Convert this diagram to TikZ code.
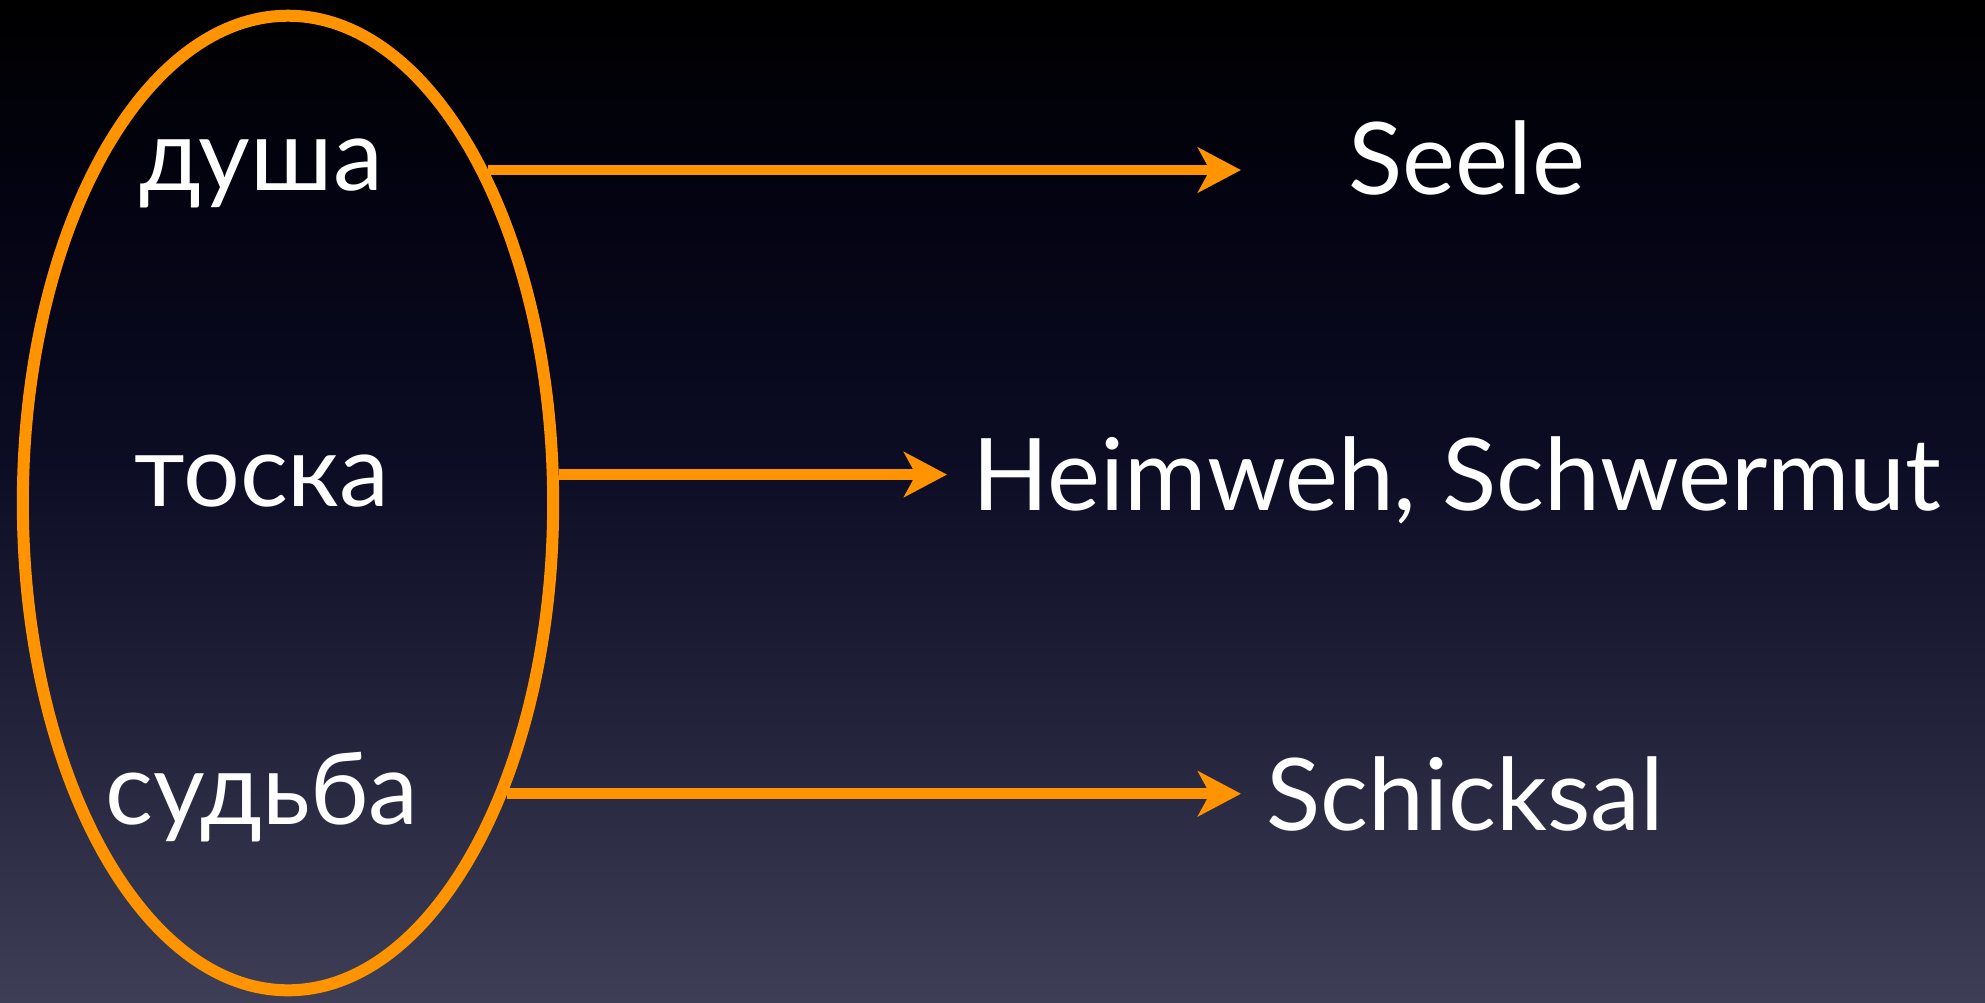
\documentclass[tikz,border=0pt]{standalone}
\usepackage{fontspec}
\setmainfont{Lato}
\usepackage{tikz}
\usetikzlibrary{arrows.meta,shapes.geometric}

\definecolor{slideorange}{RGB}{255,148,0}
\definecolor{bgbot}{RGB}{62,62,86}
\definecolor{bglow}{RGB}{36,36,60}
\definecolor{bgmid}{RGB}{12,12,36}
\definecolor{bgtop}{RGB}{3,3,18}
% the path is fitted to the part from 25bp to 75bp
\pgfdeclareverticalshading{slidebg}{100bp}{color(0bp)=(bgbot); color(25bp)=(bgbot); color(38bp)=(bglow); color(52bp)=(bgmid); color(65bp)=(bgtop); color(75bp)=(black); color(100bp)=(black)}

\tikzset{
  word/.style={text=white,font=\fontsize{28.5pt}{34pt}\selectfont,inner sep=0pt},
  conn/.style={draw=slideorange,line width=0.105cm,-{Stealth[length=0.43cm,width=0.45cm,inset=0.12cm]}}
}

\begin{document}
\begin{tikzpicture}[x=0.01cm,y=-0.01cm,line cap=butt,line join=miter]
\shade[shading=slidebg] (0,0) rectangle (1985,1002);
\useasboundingbox (0,0) rectangle (1985,1002);
\node[draw=slideorange,line width=0.12cm,ellipse,inner sep=0pt,minimum width=5.3cm,minimum height=9.74cm] (grp) at (288,503) {};
% russian words
\node[word,anchor=base] (dusha) at (261,190) {душа};
\node[word,anchor=base] (toska) at (262,506) {тоска};
\node[word,anchor=base] (sudba) at (262,824) {судьба};
% german words
\node[word,anchor=base west] (seele) at (1348,194) {Seele};
\node[word,anchor=base west] (heimweh) at (972,510) {Heimweh, Schwermut};
\node[word,anchor=base west] (schicksal) at (1266,830) {Schicksal};
\draw[conn,shorten >=1.07cm] (grp.59.5) -- (grp.59.5 -| seele.west);
\draw[conn,shorten >=0.25cm] (grp.6.6) -- (grp.6.6 -| heimweh.west);
\draw[conn,shorten >=0.25cm] (grp.-53.3) -- (grp.-53.3 -| schicksal.west);
\end{tikzpicture}
\end{document}
